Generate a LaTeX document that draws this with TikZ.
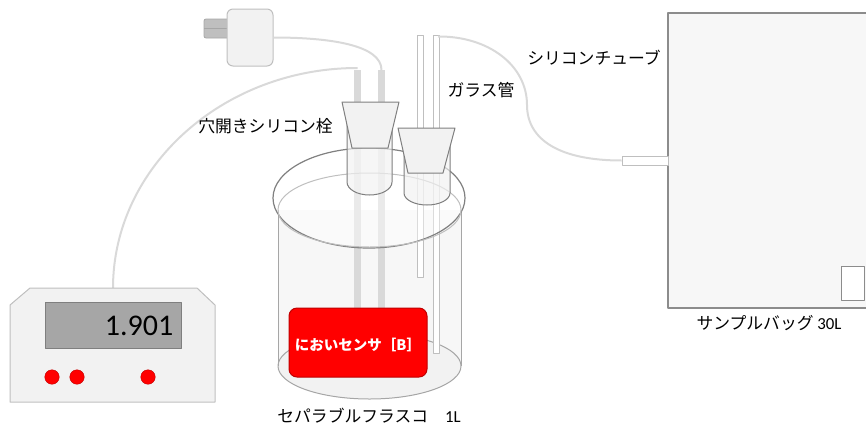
\documentclass[tikz,border=0pt]{standalone}
\usepackage{fontspec}
\newfontfamily\jp{Noto Sans CJK JP}
\newfontfamily\lat{Carlito}
\definecolor{cablegrey}{HTML}{D9D9D9}
\definecolor{panel}{HTML}{F2F2F2}
\definecolor{panelline}{HTML}{BFBFBF}
\definecolor{lcd}{HTML}{A6A6A6}
\definecolor{lcdline}{HTML}{7F7F7F}
\definecolor{glassline}{HTML}{A6A6A6}
\definecolor{rimline}{HTML}{808080}
\definecolor{bagfill}{HTML}{F7F7F7}
\definecolor{bagline}{HTML}{8C8C8C}
\definecolor{ledred}{HTML}{FF0000}
\definecolor{ledline}{HTML}{C00000}
\begin{document}
\begin{tikzpicture}[x=1pt,y=-1pt,line join=round,
  cable/.style={draw=cablegrey,line width=2pt},
  label/.style={font=\jp\fontsize{16.8}{18}\selectfont,inner sep=0pt,text=black},
  housing/.style={draw=panelline,fill=panel,line width=1pt},
  led/.style={circle,draw=ledline,fill=ledred,minimum size=14.5pt,inner sep=0pt},
  stopper/.style={draw=lcdline,line width=1pt},
  glasstube/.style={draw=panelline,fill=white,line width=0.8pt},
  rubbertube/.style={fill=cablegrey,draw=none}]
\useasboundingbox (0,0) rectangle (866,429);
\clip (0,0) rectangle (866,429);

% --- power adapter -------------------------------------------------
\draw[fill=panelline,draw=lcd,line width=0.8pt,rounded corners=2pt]
  (228,19) -- (204,19) -- (204,38) -- (228,38);
\draw[draw=lcd,line width=0.8pt] (204,28.5) -- (227,28.5);
\node[housing,rounded corners=6pt,minimum width=46pt,minimum height=57pt,inner sep=0pt]
  (adapter) at (250,37.5) {};

% --- connection points ----------------------------------------------
\coordinate (tubeA) at (357.5,68);
\coordinate (tubeB) at (381.5,70);
\coordinate (meterTop) at (113,288);
\coordinate (glassTop) at (438,36.5);

% --- cables ------------------------------------------------------------
\draw[cable] (adapter.east) .. controls (330,37.5) and (381.5,45) .. (tubeB);
\draw[cable] (meterTop) .. controls (113,167) and (223,68) .. (tubeA);

% --- meter ---------------------------------------------------------------
\draw[housing] (10,305) -- (30,288) -- (197,288) -- (215,305) -- (215,402) -- (10,402) -- cycle;
\node[draw=lcdline,fill=lcd,line width=1pt,minimum width=136pt,minimum height=46pt,inner sep=0pt]
  (display) at (113,325) {};
\node[anchor=east,inner sep=0pt,font=\lat\fontsize{30}{30}\selectfont] (reading) at (173.5,326) {1.901};
\node[led] (led1) at (52,377) {};
\node[led] (led2) at (77,377) {};
\node[led] (led3) at (148,377) {};

% --- separable flask: body and bottom ---------------------------------------
\fill[bagfill] (278,210) -- (278,366) arc[start angle=180,end angle=0,x radius=91.5,y radius=33] -- (461,210) -- cycle;
\draw[fill=panel,draw=glassline,line width=1pt] (369.5,366) ellipse[x radius=91.5,y radius=33];
\draw[glassline,line width=1pt] (278,210) -- (278,366) (461,210) -- (461,366);

% --- tubes inside the flask ---------------------------------------------------
\fill[rubbertube] (354,70) rectangle (361,309);
\fill[rubbertube] (378,70) rectangle (385,309);
\draw[glasstube] (417,35) rectangle (423.5,277);
\draw[glasstube] (433,35) rectangle (439.5,353);

% --- odour sensor ---------------------------------------------------------------
\node[draw=ledline,fill=ledred,line width=1pt,rounded corners=8pt,minimum width=138pt,minimum height=69pt,inner sep=0pt]
  (sensor) at (358,342.5) {};
\node[font=\jp\bfseries\fontsize{14.5}{16}\selectfont,text=white,inner sep=0pt] at (358,345) {においセンサ［B］};

% --- flask rim ------------------------------------------------------------------
\draw[fill=white,fill opacity=0.45,draw=rimline,line width=1.2pt] (369,198) ellipse[x radius=96,y radius=50];
\draw[draw=panelline,line width=1pt] (369.5,210) ellipse[x radius=91.5,y radius=37];

% --- silicone stoppers ------------------------------------------------------------
\draw[stopper,fill=panel,fill opacity=0.65] (347,120) -- (347,182) arc[start angle=180,end angle=0,x radius=22.5,y radius=13] -- (392,120);
\draw[stopper,fill=panel] (342,102) -- (399,102) -- (388,148) -- (352,148) -- cycle;
\draw[stopper,fill=panel,fill opacity=0.65] (404,145) -- (404,193) arc[start angle=180,end angle=0,x radius=23,y radius=12] -- (450,145);
\draw[stopper,fill=panel] (398,128) -- (455,128) -- (443,173) -- (408,173) -- cycle;

% --- sample bag ---------------------------------------------------------------------
\draw[fill=bagfill,draw=bagline,line width=1.5pt] (668,13) rectangle (870,308);
\node[draw=bagline,fill=white,line width=1pt,minimum width=23pt,minimum height=34pt,inner sep=0pt]
  (valve) at (853,283) {};
\node[glasstube,minimum width=46pt,minimum height=9pt,inner sep=0pt] (nozzle) at (645,160.5) {};

% --- silicone tube from glass tube to bag ---------------------------------------
\draw[cable] (glassTop) .. controls (488,36) and (527,65) .. (527,105)
  .. controls (527,140) and (560,160.5) .. (nozzle.west);

% --- labels -----------------------------------------------------------------------------
\node[label] (lblStopper) at (265.5,126) {穴開きシリコン栓};
\node[label] (lblGlass) at (481,90) {ガラス管};
\node[label] (lblSilicone) at (594,57.5) {シリコンチューブ};
\node[label] (lblBag) at (769,323.5) {サンプルバッグ {\lat 30L}};
\node[label] (lblFlask) at (369,416) {セパラブルフラスコ　{\lat 1L}};
\end{tikzpicture}
\end{document}
